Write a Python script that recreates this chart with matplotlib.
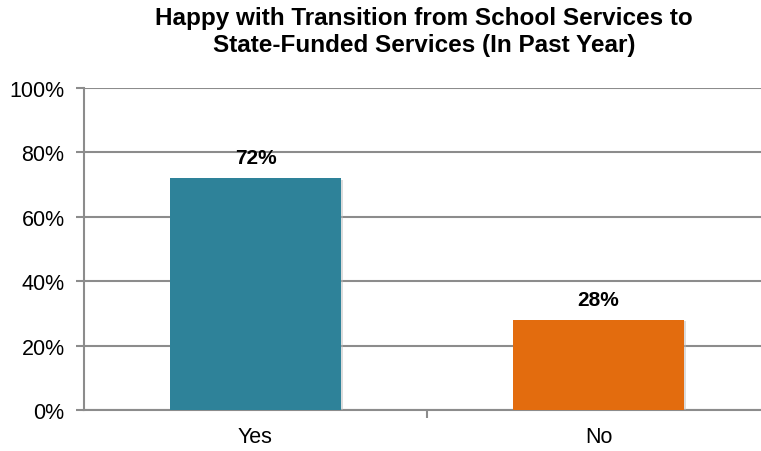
import matplotlib.pyplot as plt
import matplotlib.patheffects as pe

categories = ["Yes", "No"]
values = [72, 28]
colors = ["#2E8299", "#E36C0E"]
yticks = [0, 20, 40, 60, 80, 100]

plt.rcParams['font.family'] = ['Liberation Sans', 'DejaVu Sans']

fig = plt.figure(figsize=(7.61, 4.52), dpi=100)
# axes runs a little past the right edge of the figure
ax = fig.add_axes([84 / 761, 41 / 452, 686 / 761, 322 / 452])

pos = range(len(categories))
bars = ax.bar(pos, values, width=0.5, color=colors, zorder=3,
              path_effects=[pe.SimplePatchShadow(offset=(1.5, -1), shadow_rgbFace='#bbbbbb', alpha=0.5),
                            pe.Normal()])

for b, v in zip(bars, values):
    ax.text(b.get_x() + b.get_width() / 2, v + 3.4, f"{v}%", ha='center', va='bottom',
            fontsize=15, fontweight='bold')

ax.set_xlim(-0.5, 1.5)
ax.set_ylim(0, 100)
ax.set_yticks(yticks)
ax.set_yticklabels([f"{t}%" for t in yticks], fontsize=15.5)
ax.set_xticks([0.5])
ax.set_xticklabels([""])
for i, c in enumerate(categories):
    ax.text(i, -5, c, ha='center', va='top', fontsize=15.5)

ax.yaxis.grid(True, color='#8c8c8c', linewidth=1.5, zorder=0)
for s in ['top', 'right']:
    ax.spines[s].set_visible(False)
for s in ['left', 'bottom']:
    ax.spines[s].set_color('#8c8c8c')
    ax.spines[s].set_linewidth(1.5)
ax.tick_params(axis='both', color='#8c8c8c', width=1.5, length=6)
ax.tick_params(axis='y', pad=8)

fig.text(424 / 761, 1 - 32 / 452, "Happy with Transition from School Services to\nState-Funded Services (In Past Year)",
         ha='center', va='center', fontsize=17.5, fontweight='bold', linespacing=1.2)

plt.savefig('out.png', dpi=100)
